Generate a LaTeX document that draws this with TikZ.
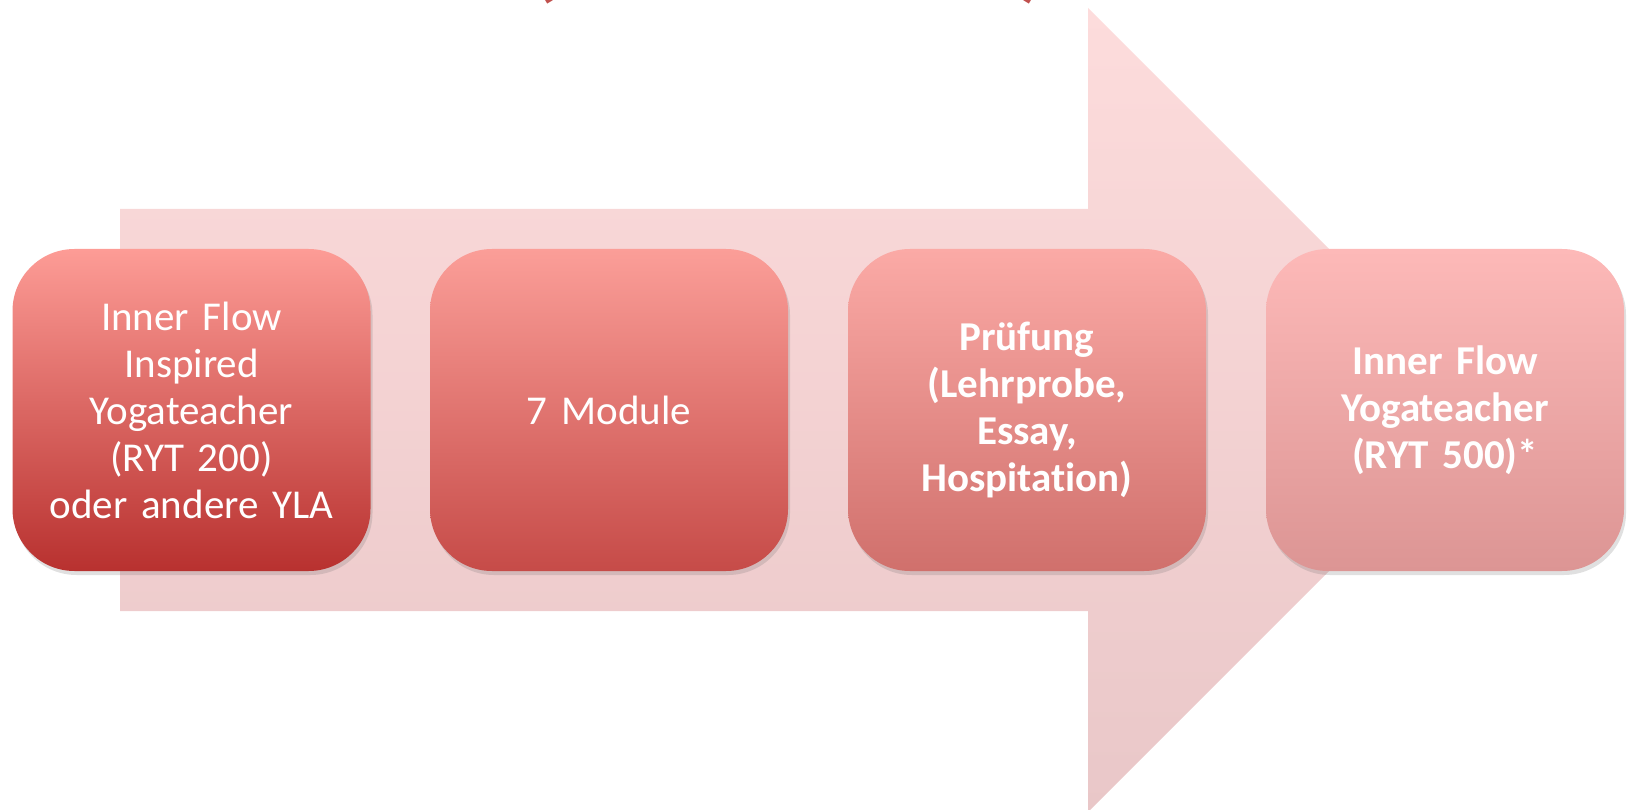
\documentclass[tikz,border=0pt]{standalone}
\usepackage{fontspec}
\setmainfont{Carlito}[Ligatures=CommonOff]
\usetikzlibrary{shadows}
\definecolor{arrtop}{HTML}{FDDCDC}
\definecolor{arrbot}{HTML}{E9C7C8}
\definecolor{aTop}{HTML}{FD9C96}
\definecolor{aBot}{HTML}{B8312F}
\definecolor{bTop}{HTML}{FB9E98}
\definecolor{bBot}{HTML}{C64B48}
\definecolor{cTop}{HTML}{FBAAA6}
\definecolor{cBot}{HTML}{D0706C}
\definecolor{dTop}{HTML}{FDB9B8}
\definecolor{dBot}{HTML}{DC9594}
\definecolor{titlered}{HTML}{C0504D}
\tikzset{
  stagebox/.style={rounded corners=62pt, minimum width=358pt, minimum height=322pt,
    text width=340pt, align=center, text=white, inner sep=0pt,
    font=\fontsize{41}{47}\selectfont,
    drop shadow={shadow xshift=2pt, shadow yshift=-4pt, opacity=0.2, fill=black!60}},
}
\begin{document}
\begin{tikzpicture}[x=1pt,y=-1pt]
\useasboundingbox (0,0) rectangle (1628,810);
\begin{scope}
\clip (0,0) rectangle (1628,810);
% big background arrow
\shade[top color=arrtop, bottom color=arrbot]
  (120,209) -- (1088,209) -- (1088,8) -- (1490,410) -- (1088,812) -- (1088,611) -- (120,611) -- cycle;
% clipped title fragments
\node[text=titlered, font=\bfseries\fontsize{90}{100}\selectfont, anchor=south] (tl) at (545,8) {(};
\node[text=titlered, font=\bfseries\fontsize{90}{100}\selectfont, anchor=south] (tr) at (1033,8) {)};
\end{scope}
\node[stagebox, top color=aTop, bottom color=aBot] (s1) at (191.5,410)
  {Inner Flow\\Inspired\\Yogateacher\\(RYT 200)\\oder andere YLA};
\node[stagebox, top color=bTop, bottom color=bBot] (s2) at (609,410)
  {7 Module};
\node[stagebox, top color=cTop, bottom color=cBot, font=\bfseries\fontsize{41}{47}\selectfont] (s3) at (1027,410)
  {Prüfung\\(Lehrprobe,\\Essay,\\Hospitation)};
\node[stagebox, top color=dTop, bottom color=dBot, font=\bfseries\fontsize{41}{47}\selectfont] (s4) at (1445,410)
  {Inner Flow\\Yogateacher\\(RYT 500)*};
\end{tikzpicture}
\end{document}
